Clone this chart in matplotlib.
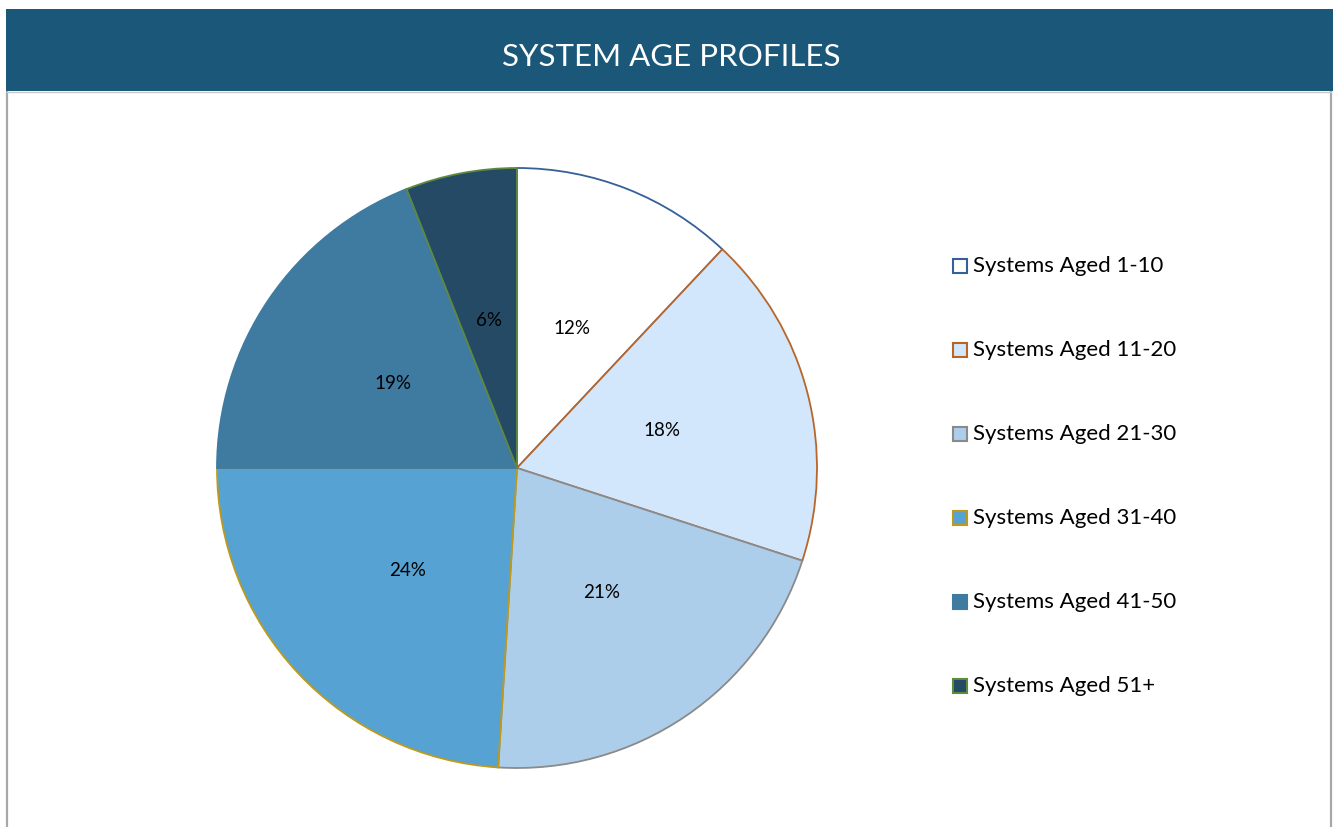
import matplotlib
matplotlib.use("Agg")
import matplotlib.pyplot as plt
from matplotlib.patches import Rectangle
from matplotlib.lines import Line2D

# Share of systems by age band
categories = ["Systems Aged 1-10", "Systems Aged 11-20", "Systems Aged 21-30",
              "Systems Aged 31-40", "Systems Aged 41-50", "Systems Aged 51+"]
shares = [12, 18, 21, 24, 19, 6]
title = "SYSTEM AGE PROFILES"

face_colors = ["#FFFFFF", "#D2E7FB", "#ADCEEA", "#55A2D3", "#3F7AA0", "#244A66"]
edge_colors = ["#35609A", "#B8652A", "#8A8A8A", "#BF9A1A", "#3F7AA0", "#5E8A3E"]

W, H = 1333, 827
fig = plt.figure(figsize=(W / 100, H / 100), dpi=100)
fig.patch.set_facecolor("white")


def fx(px):
    return px / W


def fy(py):
    return 1 - py / H


# Header bar and frame
fig.add_artist(Rectangle((fx(6), fy(91)), fx(W - 6), 82 / H,
                         transform=fig.transFigure, facecolor="#1A5778",
                         edgecolor="none", zorder=1))
frame = dict(transform=fig.transFigure, color="#A8A8A8", lw=1.6, zorder=2)
fig.add_artist(Line2D([fx(7), fx(7)], [fy(92), 0], **frame))
fig.add_artist(Line2D([fx(1331), fx(1331)], [fy(92), 0], **frame))
fig.add_artist(Line2D([fx(7), fx(1331)], [fy(92), fy(92)],
                      transform=fig.transFigure, color="#C8C8C8", lw=1, zorder=2))
fig.text(fx(671), fy(57), title, ha="center", va="center", color="white",
         fontsize=22.5, family="Lato", zorder=3)

# Pie
cx, cy, r = 517, 468, 300
ax = fig.add_axes([fx(cx - r), fy(cy + r), 2 * r / W, 2 * r / H])
wedges, texts, autotexts = ax.pie(
    shares, startangle=90, counterclock=False, colors=face_colors,
    autopct=lambda p: f"{p:.0f}%", pctdistance=0.5,
    wedgeprops=dict(linewidth=1.3), textprops=dict(fontsize=13.5, family="Lato",
                                                   color="black"))
for w, ec in zip(wedges, edge_colors):
    w.set_edgecolor(ec)
ax.set_xlim(-1.0, 1.0)
ax.set_ylim(-1.0, 1.0)
ax.set_aspect("auto")
ax.axis("off")

# Legend
x0 = 953
y0 = 266
step = 84
sq = 14
for i, (lab, fc, ec) in enumerate(zip(categories, face_colors, edge_colors)):
    yc = y0 + i * step
    fig.add_artist(Rectangle((fx(x0), fy(yc + sq / 2)), sq / W, sq / H,
                             transform=fig.transFigure, facecolor=fc,
                             edgecolor=ec, lw=1.5, zorder=3))
    fig.text(fx(x0 + sq + 6), fy(yc), lab, ha="left", va="center",
             fontsize=16, family="Lato", color="black")

fig.savefig("out.png", dpi=100)
